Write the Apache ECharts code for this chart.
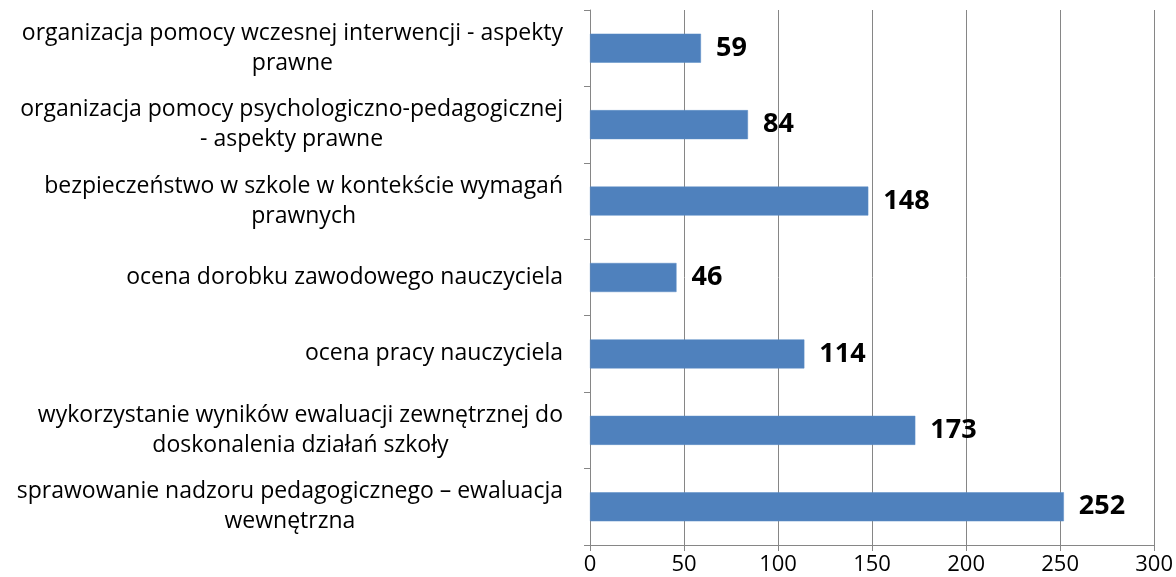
<!DOCTYPE html>
<html><head><meta charset="utf-8">
<script src="https://cdn.jsdelivr.net/npm/echarts@6/dist/echarts.min.js"></script>
<style>html,body{margin:0;padding:0;background:#fff}#c{width:1176px;height:577px}</style>
</head><body><div id="c"></div>
<script>
const categories = [
  "organizacja pomocy wczesnej interwencji - aspekty\nprawne",
  "organizacja pomocy psychologiczno-pedagogicznej\n- aspekty prawne",
  "bezpieczeństwo w szkole w kontekście wymagań\nprawnych",
  "ocena dorobku zawodowego nauczyciela",
  "ocena pracy nauczyciela",
  "wykorzystanie wyników ewaluacji zewnętrznej do\ndoskonalenia działań szkoły",
  "sprawowanie nadzoru pedagogicznego – ewaluacja\nwewnętrzna"
];
const values = [59, 84, 148, 46, 114, 173, 252];
const xMin = 0, xMax = 300, xStep = 50;

const chart = echarts.init(document.getElementById('c'));
const FONT = '"Open Sans", sans-serif';
chart.setOption({
  animation: false,
  grid: { left: 590, right: 21, top: 10, bottom: 32, containLabel: false },
  xAxis: {
    type: 'value', min: xMin, max: xMax, interval: xStep,
    axisLine: { show: true, lineStyle: { color: '#868686', width: 1 } },
    axisTick: { show: true, length: 6, lineStyle: { color: '#868686' } },
    splitLine: { show: true, lineStyle: { color: '#868686', width: 1 } },
    axisLabel: { color: '#000', fontFamily: FONT, fontSize: 22, margin: 9 }
  },
  yAxis: {
    type: 'category', data: categories, inverse: true,
    axisLine: { show: true, lineStyle: { color: '#868686', width: 1 } },
    axisTick: { show: true, length: 6, inside: false, lineStyle: { color: '#868686' } },
    axisLabel: {
      margin: 27, color: '#000', fontFamily: FONT, fontSize: 23,
      formatter: v => v.split('\n').map(l => '{c|' + l + '}').join('\n'),
      rich: { c: { align: 'center', fontFamily: FONT, fontSize: 23, color: '#000', lineHeight: 30 } }
    }
  },
  series: [{
    type: 'bar', data: values, barCategoryGap: '62%',
    itemStyle: { color: '#4F81BD', borderColor: '#5B8CC7', borderWidth: 0.5 },
    label: { show: true, position: 'right', distance: 15, color: '#000',
      fontFamily: FONT, fontWeight: 'bold', fontSize: 27 }
  }]
});
</script></body></html>
